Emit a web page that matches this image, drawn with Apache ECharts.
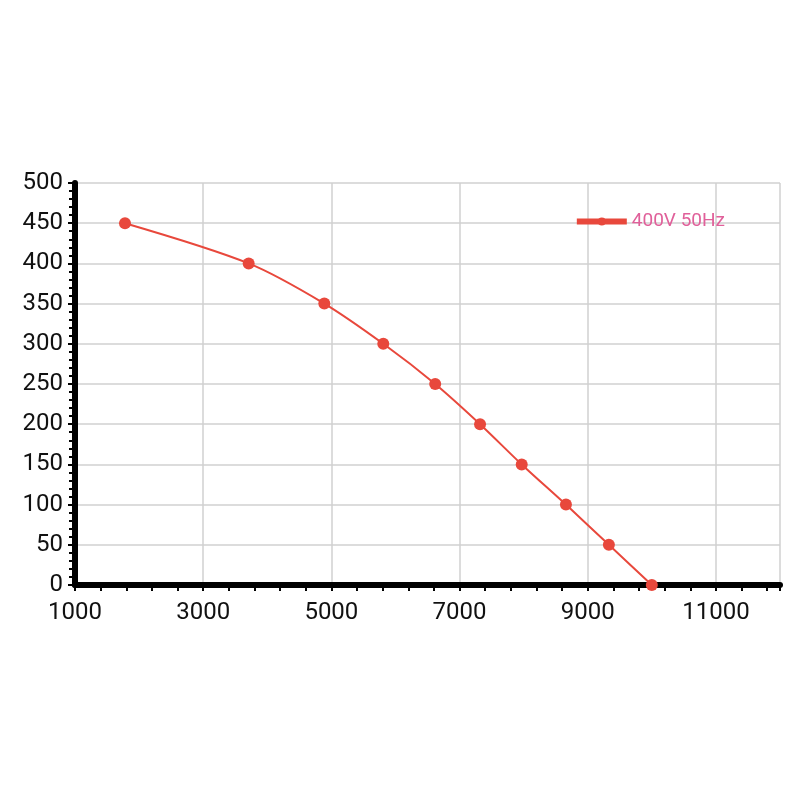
<!DOCTYPE html>
<html>
<head>
<meta charset="utf-8">
<script src="https://cdn.jsdelivr.net/npm/echarts@6/dist/echarts.min.js"></script>
<style>html,body{margin:0;background:#fff}#c{width:800px;height:800px}</style>
</head>
<body>
<div id="c"></div>
<script>
var airflow = [1780, 3710, 4890, 5810, 6620, 7320, 7970, 8660, 9330, 10000];
var pressure = [450, 400, 350, 300, 250, 200, 150, 100, 50, 0];
var seriesName = '400V 50Hz';

var pts = airflow.map(function (x, i) { return [x, pressure[i]]; });
var chart = echarts.init(document.getElementById('c'));
chart.setOption({
    animation: false,
    grid: { left: 75, right: 20, top: 183, bottom: 215 },
    legend: {
        right: 70, top: 207,
        itemWidth: 50, itemHeight: 10, itemGap: 8,
        lineStyle: { width: 6 },
        textStyle: { color: '#e0609a', fontSize: 19, fontFamily: 'Roboto' },
        data: [seriesName]
    },
    xAxis: {
        type: 'value', min: 1000, max: 12000, interval: 2000,
        axisLine: { lineStyle: { color: '#000', width: 6 } },
        axisTick: { show: true, length: 6, lineStyle: { color: '#000', width: 2 } },
        minorTick: { show: true, splitNumber: 5, length: 6, lineStyle: { color: '#000', width: 2 } },
        axisLabel: { color: '#111', fontSize: 24, fontFamily: 'Roboto', margin: 16,
            formatter: function (v) { return v > 11000 ? '' : v; } },
        splitLine: { show: true, lineStyle: { color: '#d0d0d0', width: 1.5 } }
    },
    yAxis: {
        type: 'value', min: 0, max: 500, interval: 50,
        axisLine: { show: true, lineStyle: { color: '#000', width: 6 } },
        axisTick: { show: true, length: 7, lineStyle: { color: '#000', width: 2 } },
        minorTick: { show: true, splitNumber: 5, length: 6, lineStyle: { color: '#000', width: 2 } },
        axisLabel: { color: '#111', fontSize: 24, fontFamily: 'Roboto', margin: 12 },
        splitLine: { show: true, lineStyle: { color: '#d0d0d0', width: 1.5 } }
    },
    series: [{
        name: seriesName,
        type: 'line',
        smooth: 0.3,
        data: pts,
        symbol: 'circle',
        symbolSize: 12,
        itemStyle: { color: '#e8483c' },
        lineStyle: { color: '#e8483c', width: 2 }
    }]
});
</script>
</body>
</html>
